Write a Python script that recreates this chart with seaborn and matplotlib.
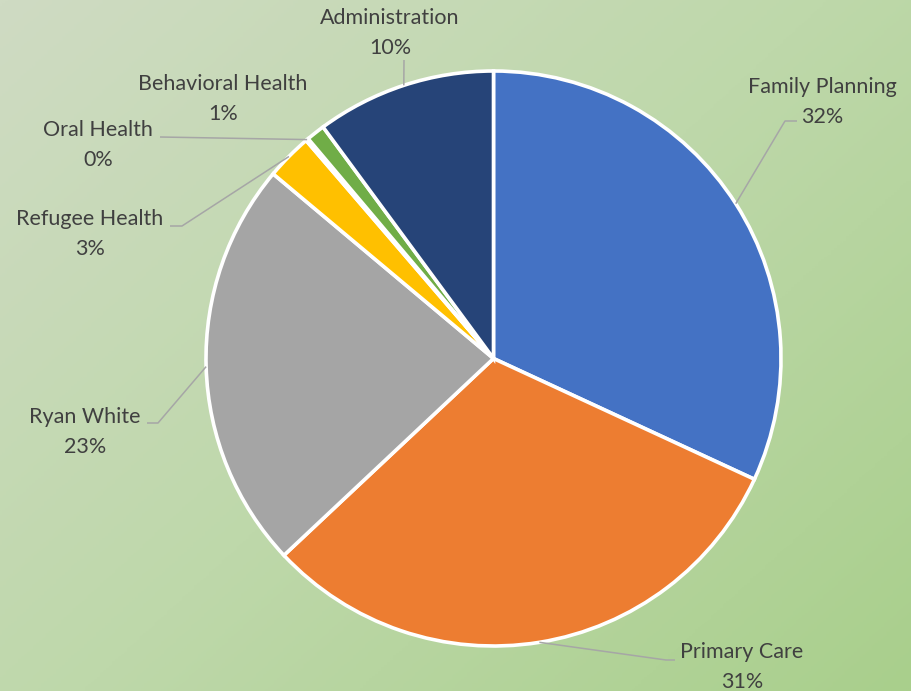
import numpy as np
import matplotlib
matplotlib.use("Agg")
import matplotlib.pyplot as plt
import seaborn as sns
from matplotlib.colors import LinearSegmentedColormap

sns.set_theme(style="white")
plt.rcParams['font.family'] = ['Lato', 'DejaVu Sans']

categories = ["Family Planning", "Primary Care", "Ryan White", "Refugee Health",
              "Oral Health", "Behavioral Health", "Administration"]
values = [31.9, 31.1, 23.1, 2.6, 0.15, 1.05, 10.1]
pct_labels = ["32%", "31%", "23%", "3%", "0%", "1%", "10%"]
colors = ["#4472C4", "#ED7D31", "#A5A5A5", "#FFC000", "#5B9BD5", "#70AD47", "#264478"]

W, H = 911, 691
fig = plt.figure(figsize=(W / 100, H / 100), dpi=100)

# background gradient
bg = fig.add_axes([0, 0, 1, 1])
bg.set_axis_off()
xx, yy = np.meshgrid(np.linspace(0, 1, 300), np.linspace(0, 1, 300))
g = (xx * 0.55 + yy * 0.45)
cmap = LinearSegmentedColormap.from_list("bg", ["#cfdbc3", "#bed8aa", "#a9cf8c"])
bg.imshow(g, cmap=cmap, extent=[0, 1, 0, 1], origin="upper", aspect="auto")

ax = fig.add_axes([0, 0, 1, 1])
ax.set_xlim(0, W)
ax.set_ylim(0, H)
ax.set_aspect("equal")
ax.set_axis_off()
ax.patch.set_alpha(0)

cx, cy, r = 493.5, H - 358.5, 287.5
wedges, _ = ax.pie(values, colors=colors, startangle=90, counterclock=False,
                   center=(cx, cy), radius=r,
                   wedgeprops=dict(edgecolor="white", linewidth=2.6))
ax.set_xlim(0, W)
ax.set_ylim(0, H)

# label layout: (text center x, text center y in px from top, elbow points in px)
layout = {
    "Family Planning": ((822, 102), [(785, 121), (797, 121)]),
    "Primary Care": ((742, 667), [(666, 660), (675, 660)]),
    "Ryan White": ((85, 432), [(158, 423), (147, 423)]),
    "Refugee Health": ((90, 234), [(182, 226), (170, 226)]),
    "Oral Health": ((98, 145), [(160, 137)]),
    "Behavioral Health": ((223, 99), None),
    "Administration": ((390, 33), [(404, 60)]),
}

tcol = "#404040"
cum = 0.0
total = sum(values)
for name, v, pct in zip(categories, values, pct_labels):
    mid = (cum + v / 2) / total * 360.0
    cum += v
    ang = np.deg2rad(90 - mid)
    ex, ey = cx + r * np.cos(ang), cy + r * np.sin(ang)
    (tx, ty), elbows = layout[name]
    ax.text(tx, H - ty, f"{name}\n{pct}", ha="center", va="center",
            fontsize=15.5, color=tcol, linespacing=1.6)
    if elbows:
        xs = [ex] + [p[0] for p in elbows]
        ys = [ey] + [H - p[1] for p in elbows]
        ax.plot(xs, ys, color="#a6a6a6", lw=1.1, solid_capstyle="butt")

fig.savefig("out.png", dpi=100)
